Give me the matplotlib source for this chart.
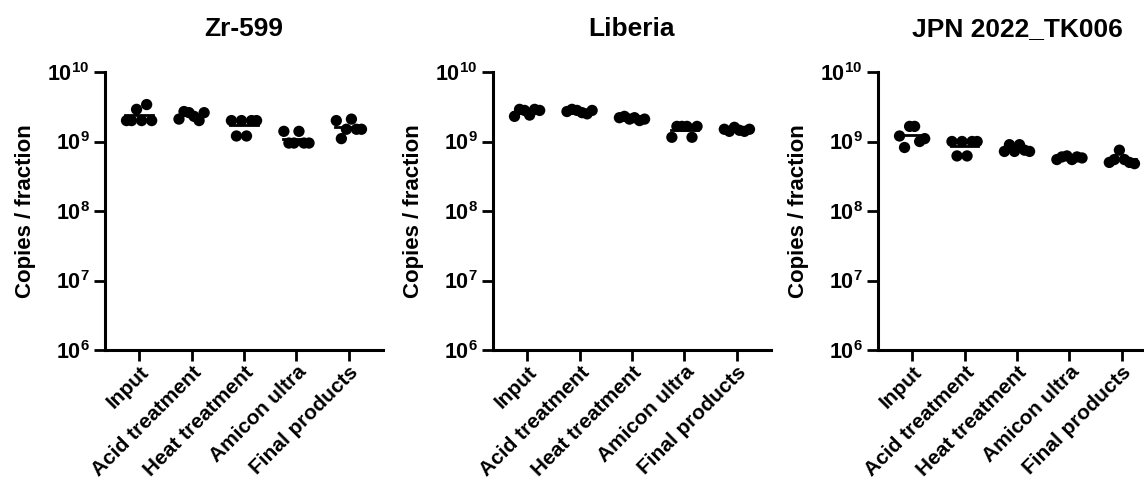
import numpy as np
import matplotlib
matplotlib.use("Agg")
import matplotlib.pyplot as plt

plt.rcParams['font.family'] = ['Liberation Sans', 'DejaVu Sans']
plt.rcParams['font.weight'] = 'bold'
plt.rcParams['mathtext.fontset'] = 'custom'
plt.rcParams['mathtext.rm'] = 'Liberation Sans:bold'
plt.rcParams['mathtext.bf'] = 'Liberation Sans:bold'
plt.rcParams['mathtext.it'] = 'Liberation Sans:bold'

categories = ["Input", "Acid treatment", "Heat treatment", "Amicon ultra", "Final products"]
titles = ["Zr-599", "Liberia", "JPN 2022_TK006"]

# values in units of 1e9 copies / fraction (left-to-right order within each group)
zr599 = [
    [2.0, 2.0, 2.9, 2.0, 3.4, 2.0],
    [2.1, 2.7, 2.6, 2.3, 2.0, 2.6],
    [2.0, 1.2, 2.0, 1.2, 2.0, 2.0],
    [1.4, 0.95, 0.95, 1.4, 0.95, 0.95],
    [2.0, 1.1, 1.5, 2.1, 1.5, 1.5],
]
liberia = [
    [2.3, 2.9, 2.8, 2.4, 2.9, 2.8],
    [2.7, 2.9, 2.8, 2.6, 2.5, 2.8],
    [2.2, 2.3, 2.1, 2.2, 2.0, 2.1],
    [1.15, 1.65, 1.65, 1.65, 1.15, 1.65],
    [1.5, 1.4, 1.6, 1.45, 1.4, 1.5],
]
jpn = [
    [1.2, 0.82, 1.65, 1.65, 1.0, 1.1],
    [1.0, 0.62, 1.0, 0.62, 1.0, 1.0],
    [0.72, 0.9, 0.72, 0.9, 0.75, 0.72],
    [0.55, 0.6, 0.62, 0.55, 0.6, 0.58],
    [0.5, 0.55, 0.75, 0.55, 0.5, 0.48],
]
datasets = [zr599, liberia, jpn]
scale = 1e9

yticks = [1e6, 1e7, 1e8, 1e9, 1e10]
ytick_labels = [r"$\mathbf{10^{6}}$", r"$\mathbf{10^{7}}$", r"$\mathbf{10^{8}}$",
                r"$\mathbf{10^{9}}$", r"$\mathbf{10^{10}}$"]

W, H = 1144, 486
fig = plt.figure(figsize=(W / 100, H / 100), dpi=100)

lefts = [105, 493, 878]
ax_w = 278
ax_top, ax_bot = 72, 350

for i, (data, title) in enumerate(zip(datasets, titles)):
    ax = fig.add_axes([lefts[i] / W, (H - ax_bot) / H, ax_w / W, (ax_bot - ax_top) / H])
    ax.set_yscale('log')
    ax.set_ylim(1e6, 1e10)
    ax.set_xlim(-0.65, 4.65)
    for j, vals in enumerate(data):
        v = np.array(vals) * scale
        n = len(v)
        xs = j + np.linspace(-0.24, 0.24, n)
        ax.scatter(xs, v, s=66, color='black', edgecolor='none', zorder=3, clip_on=False)
        m = v.mean()
        ax.plot([j - 0.26, j + 0.26], [m, m], color='black', lw=2, zorder=4)
    ax.set_yticks(yticks)
    ax.set_yticklabels(ytick_labels, fontsize=15.5)
    ax.yaxis.set_minor_locator(matplotlib.ticker.NullLocator())
    ax.set_xticks(range(len(categories)))
    ax.set_xticklabels(categories, rotation=45, ha='right', rotation_mode='anchor',
                       fontsize=15, fontweight='bold')
    ax.spines['top'].set_visible(False)
    ax.spines['right'].set_visible(False)
    for s in ['left', 'bottom']:
        ax.spines[s].set_linewidth(2.2)
    ax.tick_params(axis='both', which='major', length=8, width=2, direction='out')
    ax.tick_params(axis='x', pad=1)
    ax.tick_params(axis='y', pad=3)
    ax.set_ylabel("Copies / fraction", fontsize=16, fontweight='bold', labelpad=8)
    ax.set_title(title, fontsize=19, fontweight='bold', pad=26)

fig.savefig("out.png", dpi=100)
